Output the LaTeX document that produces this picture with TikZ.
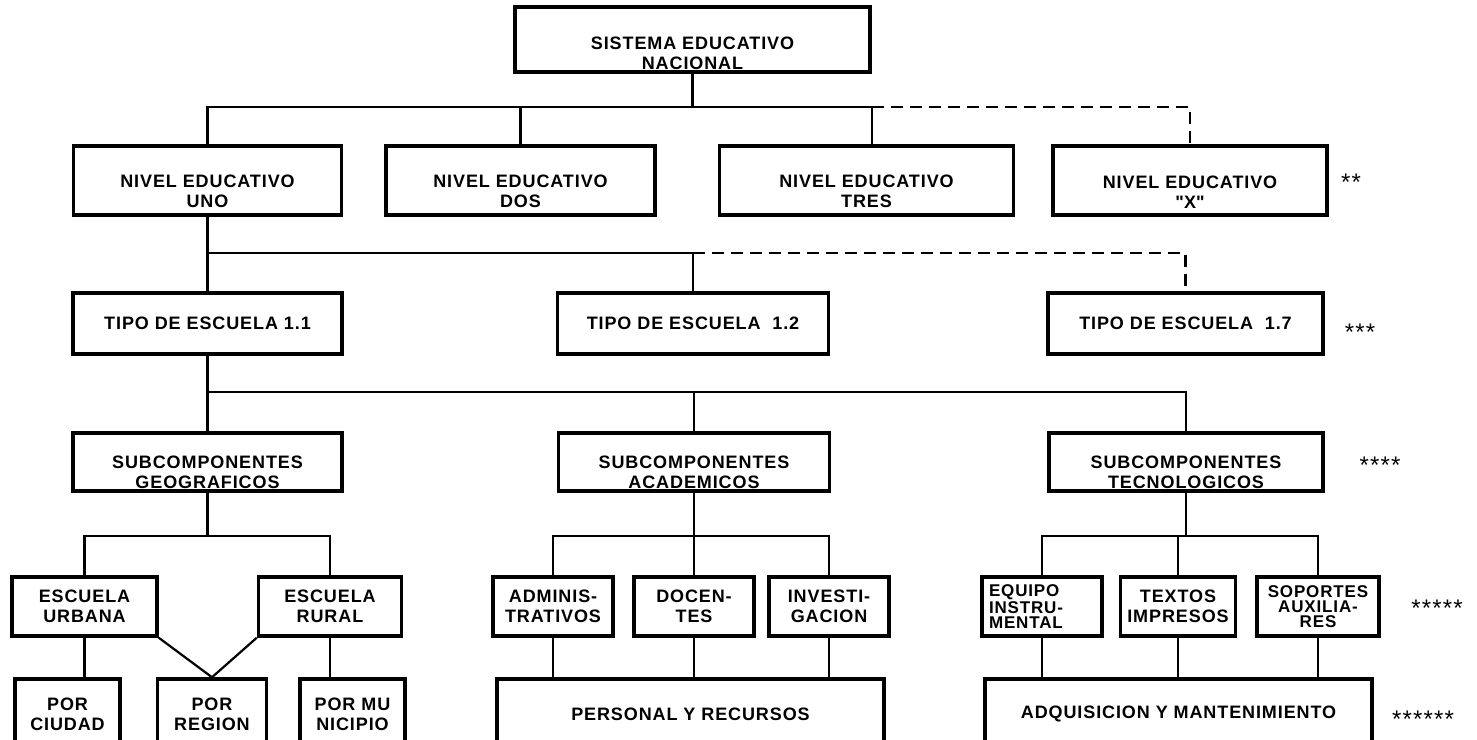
\documentclass[tikz,border=0pt]{standalone}
\usepackage{fontspec}
\setmainfont{Liberation Sans}[LetterSpace=5]
\usetikzlibrary{positioning}
\tikzstyle{block} = [rectangle, draw, line width=3.5pt, inner sep=0pt,
    align=center, font=\bfseries\fontsize{18}{20}\selectfont]
\tikzstyle{nivel} = [block, minimum height=69pt]
\tikzstyle{tipo} = [block, minimum height=61pt]
\tikzstyle{subcomp} = [block, minimum height=58pt]
\tikzstyle{parte} = [block, minimum height=59pt]
\tikzstyle{destino} = [block, minimum height=70pt]
\tikzstyle{tight} = [font=\bfseries\fontsize{17}{15}\selectfont]
\tikzstyle{link} = [draw, line width=2.2pt]
\tikzstyle{optlink} = [draw, line width=2.2pt, dash pattern=on 12pt off 7pt]
\tikzstyle{note} = [font=\fontsize{24}{24}\selectfont, yshift=-4pt]
\newcommand{\txtpad}[1]{\rule{0pt}{#1}}

\begin{document}
\begin{tikzpicture}[x=1pt, y=-1pt]
    \useasboundingbox (0,0) rectangle (1477,739);

    \node[block, minimum width=355pt, minimum height=65pt] (sen) at (692.5,39.5) {\txtpad{40pt}SISTEMA EDUCATIVO\\NACIONAL};

    % niveles educativos
    \node[nivel, minimum width=268pt] (uno) at (207.5,180.5) {\txtpad{35pt}NIVEL EDUCATIVO\\UNO};
    \node[nivel, minimum width=269pt, right=41pt of uno] (dos) {\txtpad{35pt}NIVEL EDUCATIVO\\DOS};
    \node[nivel, minimum width=294pt, right=61pt of dos] (tres) {\txtpad{35pt}NIVEL EDUCATIVO\\TRES};
    \node[nivel, minimum width=274pt, right=36pt of tres] (equis) {\txtpad{35pt}NIVEL EDUCATIVO\\\textquotedbl X\textquotedbl};

    % tipos de escuela
    \node[tipo, minimum width=269pt] (t11) at (207.5,323.5) {TIPO DE ESCUELA 1.1};
    \node[tipo, minimum width=271pt, right=212pt of t11] (t12) {TIPO DE ESCUELA\ \ 1.2};
    \node[tipo, minimum width=275pt, right=216pt of t12] (t17) {TIPO DE ESCUELA\ \ 1.7};

    % subcomponentes
    \node[subcomp, minimum width=269pt] (geo) at (207.5,462) {\txtpad{33pt}SUBCOMPONENTES\\GEOGRAFICOS};
    \node[subcomp, minimum width=271pt, right=213pt of geo] (aca) {\txtpad{33pt}SUBCOMPONENTES\\ACADEMICOS};
    \node[subcomp, minimum width=274pt, right=216pt of aca] (tec) {\txtpad{33pt}SUBCOMPONENTES\\TECNOLOGICOS};

    \node[parte, minimum width=145pt] (urb) at (84.5,606.5) {ESCUELA\\URBANA};
    \node[parte, minimum width=143pt, right=98pt of urb] (rur) {ESCUELA\\RURAL};
    \node[parte, minimum width=120pt] (adm) at (553,606.5) {ADMINIS-\\TRATIVOS};
    \node[parte, minimum width=120pt, right=17.5pt of adm] (doc) {DOCEN-\\TES};
    \node[parte, minimum width=120pt, right=11.5pt of doc] (inv) {INVESTI-\\GACION};
    \node[parte, tight, minimum width=120pt, text width=106pt, align=left] (equ) at (1042,606.5) {EQUIPO\\INSTRU-\\MENTAL};
    \node[parte, minimum width=115pt, right=15pt of equ] (tex) {TEXTOS\\IMPRESOS};
    \node[parte, tight, minimum width=122pt, right=18pt of tex] (sop) {SOPORTES\\AUXILIA-\\RES};

    \node[destino, minimum width=105pt] (ciu) at (67.5,714) {POR\\CIUDAD};
    \node[destino, minimum width=109pt, right=34pt of ciu] (reg) {POR\\REGION};
    \node[destino, minimum width=105pt, right=30pt of reg] (mun) {POR MU\\NICIPIO};
    \node[destino, minimum width=387pt] (per) at (690.5,714) {PERSONAL Y RECURSOS};
    \node[destino, minimum width=387pt] (adq) at (1178.5,714) {ADQUISICION Y MANTENIMIENTO};

    \node[note] (n2) at (1351,178) {**};
    \node[note] (n3) at (1360,328) {***};
    \node[note] (n4) at (1380,461) {****};
    \node[note] (n5) at (1437,604) {*****};
    \node[note] (n6) at (1423,715) {******};

    \coordinate (busA) at (0,107);
    \coordinate (busB) at (0,253);
    \coordinate (busC) at (0,392);
    \coordinate (busD) at (0,536);
    \coordinate (j3) at (872,107);

    \path[link] (sen.south) -- (sen.south |- busA);
    \path[link] (uno.north) |- (j3) -- (j3 |- tres.north);
    \path[link] (dos.north) -- (dos.north |- busA);
    \path[optlink] (j3) -| (equis.north);

    \path[link] (uno.south) -- (uno.south |- t11.north);
    \path[link] (uno.south |- busB) -| (t12.north);
    \path[optlink] (t12.north |- busB) -| (t17.north);

    \path[link] (t11.south) -- (t11.south |- geo.north);
    \path[link] (t11.south |- busC) -| (tec.north);
    \path[link] (aca.north) -- (aca.north |- busC);

    \path[link] (geo.south) -- (geo.south |- busD);
    \path[link] (urb.north) |- (busD -| rur.north) -- (rur.north);
    \path[link] (aca.south) -- (aca.south |- busD);
    \path[link] (adm.north) |- (busD -| inv.north) -- (inv.north);
    \path[link] (doc.north) -- (doc.north |- busD);
    \path[link] (tec.south) -- (tec.south |- busD);
    \path[link] (equ.north) |- (busD -| sop.north) -- (sop.north);
    \path[link] (tex.north) -- (tex.north |- busD);

    \path[link] (urb.south) -- (urb.south |- ciu.north);
    \path[link] (urb.south east) -- (reg.north);
    \path[link] (rur.south west) -- (reg.north);
    \path[link] (rur.south) -- (rur.south |- mun.north);
    \path[link] (adm.south) -- (adm.south |- per.north);
    \path[link] (doc.south) -- (doc.south |- per.north);
    \path[link] (inv.south) -- (inv.south |- per.north);
    \path[link] (equ.south) -- (equ.south |- adq.north);
    \path[link] (tex.south) -- (tex.south |- adq.north);
    \path[link] (sop.south) -- (sop.south |- adq.north);
\end{tikzpicture}
\end{document}
